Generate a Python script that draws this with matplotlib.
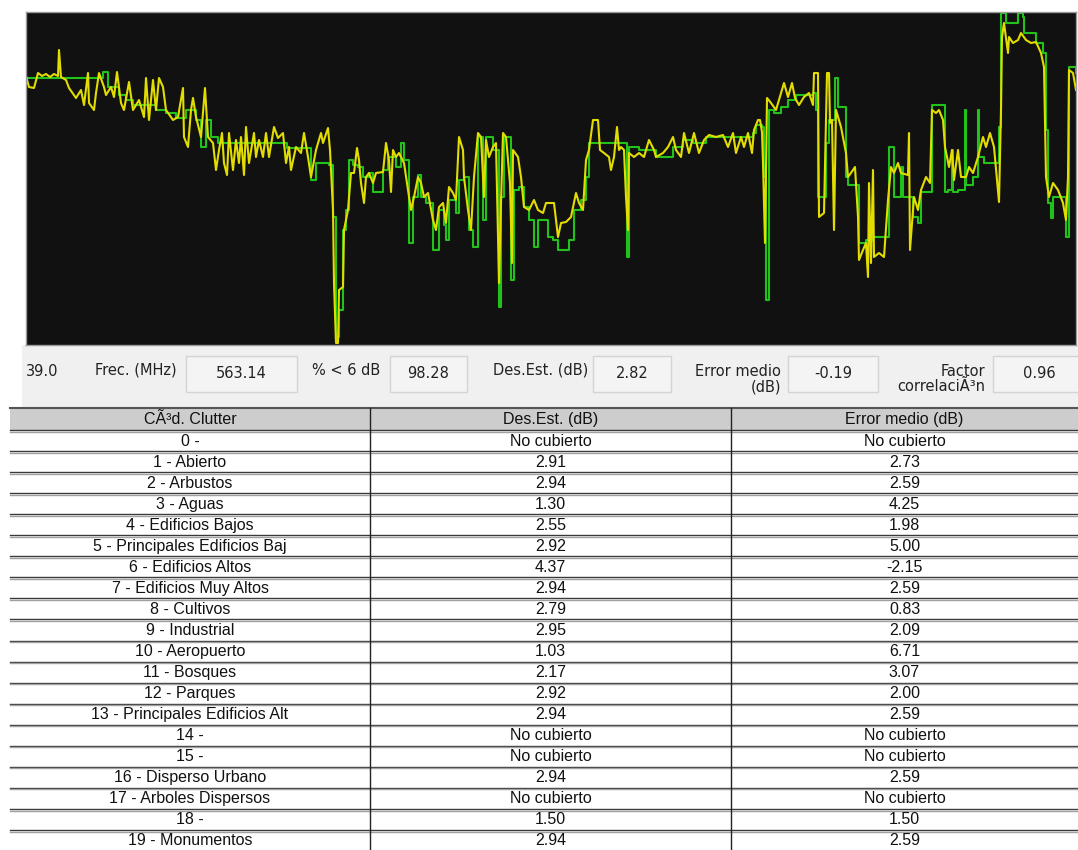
import matplotlib
matplotlib.use('Agg')
import matplotlib.pyplot as plt
from matplotlib import font_manager
from matplotlib.patches import Rectangle

# Medida (amarillo): distancia (km) y nivel (dBm)
dist_med = [0.00, 0.03, 0.08, 0.12, 0.16, 0.20, 0.24, 0.28, 0.32, 0.33, 0.35, 0.40, 0.43, 0.50, 0.55, 0.58,
            0.62, 0.63, 0.68, 0.70, 0.73, 0.78, 0.80, 0.85, 0.88, 0.91, 0.95, 0.98, 1.03, 1.07, 1.13, 1.18,
            1.20, 1.23, 1.27, 1.30, 1.33, 1.37, 1.40, 1.47, 1.52, 1.57, 1.58, 1.62, 1.65, 1.67, 1.70, 1.75,
            1.79, 1.82, 1.87, 1.90, 1.93, 1.96, 1.98, 2.01, 2.03, 2.07, 2.10, 2.13, 2.15, 2.18, 2.20, 2.23,
            2.28, 2.30, 2.33, 2.37, 2.40, 2.43, 2.48, 2.52, 2.57, 2.60, 2.63, 2.65, 2.70, 2.75, 2.78, 2.82,
            2.85, 2.90, 2.95, 2.97, 3.02, 3.04, 3.07, 3.08, 3.10, 3.12, 3.13, 3.17, 3.18, 3.22, 3.25, 3.28,
            3.31, 3.33, 3.35, 3.38, 3.40, 3.43, 3.47, 3.50, 3.57, 3.60, 3.63, 3.65, 3.67, 3.70, 3.73, 3.78,
            3.82, 3.85, 3.88, 3.92, 3.95, 3.98, 4.02, 4.07, 4.10, 4.13, 4.17, 4.20, 4.23, 4.27, 4.30, 4.33,
            4.37, 4.38, 4.42, 4.45, 4.48, 4.52, 4.55, 4.58, 4.60, 4.63, 4.67, 4.70, 4.73, 4.75, 4.77, 4.80,
            4.84, 4.86, 4.87, 4.92, 4.95, 4.98, 5.03, 5.08, 5.12, 5.17, 5.20, 5.28, 5.32, 5.35, 5.40, 5.45,
            5.50, 5.53, 5.57, 5.60, 5.63, 5.67, 5.72, 5.74, 5.78, 5.83, 5.85, 5.88, 5.91, 5.93, 5.95, 5.98,
            6.00, 6.02, 6.03, 6.08, 6.13, 6.18, 6.23, 6.28, 6.30, 6.37, 6.42, 6.47, 6.50, 6.55, 6.58, 6.63,
            6.68, 6.73, 6.78, 6.83, 6.90, 6.97, 7.02, 7.07, 7.10, 7.15, 7.18, 7.22, 7.26, 7.28, 7.32, 7.34,
            7.36, 7.37, 7.39, 7.41, 7.45, 7.50, 7.55, 7.58, 7.62, 7.66, 7.69, 7.73, 7.78, 7.83, 7.87, 7.88,
            7.92, 7.93, 7.98, 8.01, 8.03, 8.04, 8.06, 8.08, 8.10, 8.15, 8.20, 8.22, 8.27, 8.29, 8.32, 8.33,
            8.37, 8.40, 8.42, 8.43, 8.45, 8.47, 8.48, 8.53, 8.58, 8.62, 8.65, 8.68, 8.72, 8.75, 8.82, 8.83,
            8.84, 8.88, 8.92, 8.95, 9.00, 9.04, 9.06, 9.10, 9.13, 9.17, 9.19, 9.23, 9.26, 9.28, 9.32, 9.35,
            9.40, 9.43, 9.47, 9.52, 9.57, 9.60, 9.64, 9.68, 9.73, 9.75, 9.76, 9.78, 9.82, 9.83, 9.87, 9.92,
            9.95, 10.00, 10.05, 10.10, 10.15, 10.18, 10.20, 10.23, 10.27, 10.32, 10.37, 10.40, 10.42, 10.43,
            10.47, 10.50]
nivel_med = [-55.2, -57.4, -57.6, -54.6, -55.2, -54.8, -55.4, -54.8, -55.2, -50.0, -55.4, -56.0, -57.6, -59.6,
             -58.0, -61.0, -54.6, -60.6, -62.0, -58.6, -54.6, -57.4, -59.0, -57.4, -59.4, -54.4, -60.6, -62.0,
             -56.4, -62.0, -60.0, -63.4, -55.6, -64.0, -56.0, -62.0, -55.6, -57.4, -62.0, -64.0, -63.4, -57.6,
             -67.4, -69.4, -62.0, -59.6, -63.4, -67.4, -57.6, -67.4, -68.6, -74.0, -70.0, -66.6, -72.6, -75.0,
             -66.6, -74.0, -68.0, -72.6, -67.4, -75.0, -65.4, -72.6, -66.6, -71.4, -68.0, -71.4, -66.6, -71.4,
             -65.4, -67.6, -66.6, -72.6, -69.4, -74.0, -69.4, -70.6, -66.6, -71.4, -75.4, -70.0, -66.6, -68.6,
             -65.6, -70.0, -82.0, -96.6, -108.6, -108.6, -98.0, -97.4, -86.0, -82.0, -74.6, -74.6, -69.6, -72.0,
             -76.6, -80.6, -75.4, -74.6, -76.6, -74.6, -74.4, -68.6, -72.0, -78.4, -70.0, -71.4, -70.6, -72.6,
             -78.0, -82.0, -79.4, -75.4, -76.6, -79.4, -78.6, -84.0, -86.0, -81.4, -80.6, -84.6, -77.4, -78.6,
             -80.0, -67.4, -70.0, -75.4, -82.0, -86.0, -75.4, -66.6, -67.4, -79.4, -68.0, -71.4, -69.4, -68.6,
             -96.6, -80.6, -66.6, -67.4, -76.6, -92.6, -70.0, -71.4, -75.4, -81.4, -82.0, -80.0, -82.0, -82.6,
             -80.6, -80.6, -87.4, -84.6, -84.4, -83.4, -78.6, -80.6, -82.0, -72.0, -70.0, -64.0, -64.0, -70.0,
             -70.6, -71.4, -74.0, -71.4, -65.4, -70.0, -69.4, -70.0, -79.4, -86.0, -70.6, -71.4, -70.6, -71.4,
             -68.0, -70.0, -71.4, -70.6, -69.4, -67.4, -70.0, -71.4, -66.6, -70.6, -66.6, -70.6, -68.0, -67.0,
             -67.4, -67.0, -69.4, -66.6, -70.6, -67.4, -69.4, -66.6, -70.6, -66.0, -64.0, -64.0, -66.4, -72.6,
             -88.6, -59.6, -60.6, -62.0, -58.6, -56.6, -59.4, -56.6, -59.6, -61.0, -59.4, -58.6, -61.0, -54.6,
             -54.6, -83.4, -82.6, -54.6, -54.6, -64.6, -64.0, -86.0, -62.0, -65.4, -70.6, -75.4, -74.0, -73.4,
             -83.4, -92.0, -90.0, -88.6, -95.4, -76.6, -92.6, -74.0, -91.4, -90.6, -91.4, -80.0, -73.4, -74.6,
             -72.6, -74.6, -75.0, -66.6, -90.0, -79.4, -82.0, -78.0, -75.4, -76.6, -62.0, -62.6, -62.0, -64.0,
             -69.4, -73.4, -70.0, -76.0, -70.0, -75.4, -75.4, -73.4, -74.6, -71.4, -67.4, -69.4, -66.6, -69.4,
             -80.4, -62.0, -47.4, -44.6, -50.6, -47.4, -48.6, -48.0, -46.6, -48.0, -48.6, -48.4, -50.6, -53.4,
             -75.4, -79.4, -76.6, -78.0, -80.6, -84.0, -75.4, -54.0, -54.6, -58.0]

# Prediccion (verde)
dist_pred = [0.00, 0.73, 0.77, 0.82, 0.93, 1.00, 1.07, 1.20, 1.30, 1.40, 1.50, 1.60, 1.70, 1.75, 1.80, 1.85,
             1.92, 2.57, 2.61, 2.77, 2.85, 2.90, 3.03, 3.07, 3.10, 3.13, 3.17, 3.20, 3.23, 3.27, 3.32, 3.37,
             3.43, 3.47, 3.53, 3.57, 3.62, 3.70, 3.75, 3.78, 3.83, 3.87, 3.92, 3.95, 4.00, 4.07, 4.12, 4.13,
             4.18, 4.20, 4.23, 4.30, 4.33, 4.38, 4.43, 4.47, 4.52, 4.57, 4.60, 4.67, 4.73, 4.75, 4.78, 4.85,
             4.88, 4.93, 4.98, 5.03, 5.08, 5.12, 5.18, 5.22, 5.27, 5.32, 5.38, 5.43, 5.48, 5.55, 5.60, 5.63,
             6.00, 6.01, 6.03, 6.13, 6.30, 6.47, 6.57, 6.67, 6.80, 7.27, 7.30, 7.36, 7.38, 7.40, 7.43, 7.48,
             7.55, 7.62, 7.70, 7.87, 7.90, 7.92, 7.98, 8.00, 8.03, 8.07, 8.09, 8.12, 8.18, 8.20, 8.22, 8.30,
             8.33, 8.40, 8.47, 8.58, 8.63, 8.68, 8.72, 8.75, 8.77, 8.83, 8.87, 8.92, 8.95, 9.05, 9.06, 9.18,
             9.19, 9.22, 9.26, 9.27, 9.32, 9.39, 9.40, 9.45, 9.47, 9.52, 9.53, 9.58, 9.68, 9.73, 9.75, 9.80,
             9.83, 9.92, 9.97, 9.98, 10.07, 10.10, 10.17, 10.20, 10.22, 10.25, 10.27, 10.37, 10.40, 10.43,
             10.50]
nivel_pred = [-55.6, -55.6, -54.4, -57.4, -59.0, -60.0, -61.0, -61.0, -62.0, -62.6, -63.6, -62.0, -64.0, -69.4,
              -64.0, -67.4, -68.6, -68.6, -69.6, -69.6, -76.0, -72.6, -73.0, -83.4, -107.4, -102.0, -86.0, -82.0,
              -72.0, -73.0, -73.4, -75.4, -74.6, -78.4, -78.4, -74.0, -71.4, -73.4, -68.6, -72.0, -88.6, -79.4,
              -75.0, -79.4, -80.6, -90.0, -90.0, -82.0, -85.0, -88.0, -80.0, -82.6, -76.0, -75.4, -86.0, -89.4,
              -67.4, -84.0, -67.4, -70.0, -101.4, -79.4, -67.4, -96.0, -78.0, -77.4, -81.4, -84.0, -89.4, -84.0,
              -84.0, -87.4, -88.0, -90.0, -90.0, -88.0, -82.0, -80.0, -75.4, -68.6, -68.6, -91.4, -69.4, -70.0,
              -71.4, -69.4, -68.0, -68.6, -67.4, -66.6, -65.0, -65.4, -75.4, -100.0, -62.0, -62.6, -61.4, -60.0,
              -59.0, -58.6, -62.0, -79.4, -79.4, -68.6, -64.0, -64.0, -55.6, -61.4, -61.4, -75.4, -77.0, -77.0,
              -88.6, -88.0, -87.4, -87.4, -69.4, -79.4, -79.4, -73.4, -79.4, -79.4, -83.4, -84.6, -78.4, -78.4,
              -61.0, -61.0, -78.4, -78.0, -70.0, -78.4, -78.0, -62.0, -77.0, -77.0, -75.4, -62.0, -71.4, -72.6,
              -72.6, -65.4, -42.6, -44.6, -44.6, -42.6, -43.4, -46.6, -46.6, -48.6, -50.6, -66.0, -80.6, -83.6,
              -79.4, -79.4, -87.4, -53.4, -54.6]

# Barra de estado
frec_mhz = 563.14
pct_6db = 98.28
des_est_total = 2.82
error_medio_total = -0.19
factor_corr = 0.96

# Tabla por clutter
clutter = ["0 -", "1 - Abierto", "2 - Arbustos", "3 - Aguas", "4 - Edificios Bajos",
           "5 - Principales Edificios Baj", "6 - Edificios Altos", "7 - Edificios Muy Altos",
           "8 - Cultivos", "9 - Industrial", "10 - Aeropuerto", "11 - Bosques", "12 - Parques",
           "13 - Principales Edificios Alt", "14 -", "15 -", "16 - Disperso Urbano",
           "17 - Arboles Dispersos", "18 -", "19 - Monumentos"]
des_est = [None, 2.91, 2.94, 1.30, 2.55, 2.92, 4.37, 2.94, 2.79, 2.95, 1.03, 2.17, 2.92, 2.94,
           None, None, 2.94, None, 1.50, 2.94]
error_medio = [None, 2.73, 2.59, 4.25, 1.98, 5.00, -2.15, 2.59, 0.83, 2.09, 6.71, 3.07, 2.00, 2.59,
               None, None, 2.59, None, 1.50, 2.59]

names = {f.name for f in font_manager.fontManager.ttflist}
narrow = 'Liberation Sans Narrow' if 'Liberation Sans Narrow' in names else 'Liberation Sans'
ui_font = 'DejaVu Sans'

W, H = 1078, 850
fig = plt.figure(figsize=(W / 100, H / 100), dpi=100)
fig.patch.set_facecolor('white')

# capa en pixeles para barra de estado y tabla
ui = fig.add_axes([0, 0, 1, 1])
ui.set_xlim(0, W)
ui.set_ylim(H, 0)
ui.axis('off')

ui.add_patch(Rectangle((22, 345), W - 22, 62, fc='#f0f0f0', ec='none'))

def caja(x0, x1, val):
    ui.add_patch(Rectangle((x0, 356), x1 - x0, 36, fc='#f4f4f4', ec='#d4d4d4', lw=1))
    ui.text((x0 + x1) / 2, 373, val, ha='center', va='center', fontsize=10.5, family=ui_font, color='#222222')

txt = dict(fontsize=10.5, family=ui_font, color='#222222', va='center')
ui.text(26, 371, '39.0', ha='left', **txt)
ui.text(95, 370, 'Frec. (MHz)', ha='left', **txt)
caja(186, 297, '%.2f' % frec_mhz)
ui.text(312, 370, '% < 6 dB', ha='left', **txt)
caja(390, 467, '%.2f' % pct_6db)
ui.text(588, 370, 'Des.Est. (dB)', ha='right', **txt)
caja(593, 671, '%.2f' % des_est_total)
ui.text(781, 379, 'Error medio\n(dB)', ha='right', multialignment='right', linespacing=1.0, **txt)
caja(788, 878, '%.2f' % error_medio_total)
ui.text(985, 379, 'Factor\ncorrelaciÃ³n', ha='right', multialignment='right', linespacing=1.0, **txt)
caja(993, 1085, '%.2f' % factor_corr)

# tabla
top = 408
head_h = 22
row_h = 21.05
x_cols = [10, 370, 731, W]
ui.add_patch(Rectangle((10, top), W - 10, head_h, fc='#cdcdcd', ec='none'))
ui.plot([10, W], [top, top], color='#555555', lw=1.5)
tfont = dict(fontsize=11.5, family=narrow, color='#111111', ha='center', va='center')
heads = ['CÃ³d. Clutter', 'Des.Est. (dB)', 'Error medio (dB)']
for i, hd in enumerate(heads):
    ui.text((x_cols[i] + x_cols[i + 1]) / 2, top + head_h / 2, hd, **tfont)

for k in range(len(clutter) + 1):
    ys = top + head_h + k * row_h
    ui.plot([10, W], [ys, ys], color='#3a3a3a', lw=1.0)
    ui.plot([10, W], [ys + 1.6, ys + 1.6], color='#a0a0a0', lw=1.0)

for k, name in enumerate(clutter):
    yc = top + head_h + k * row_h + row_h / 2 + 0.5
    de = 'No cubierto' if des_est[k] is None else '%.2f' % des_est[k]
    em = 'No cubierto' if error_medio[k] is None else '%.2f' % error_medio[k]
    for i, s in enumerate([name, de, em]):
        ui.text((x_cols[i] + x_cols[i + 1]) / 2, yc, s, **tfont)

for xc in x_cols[1:3]:
    ui.plot([xc, xc], [top, H], color='#222222', lw=1.0)

# grafico de niveles
ax = fig.add_axes([26 / W, 1 - 345 / H, 1050 / W, 333 / H])
ax.set_facecolor('#111111')
ax.plot(dist_pred, nivel_pred, color='#22c21a', lw=1.5, drawstyle='steps-post')
ax.plot(dist_med, nivel_med, color='#e2dc00', lw=1.5)
ax.set_xlim(0, 10.5)
ax.set_ylim(-109, -42.4)
ax.set_xticks([])
ax.set_yticks([])
for sp in ax.spines.values():
    sp.set_color('#9a9a9a')
    sp.set_linewidth(1)

fig.savefig('out.png', dpi=100)
